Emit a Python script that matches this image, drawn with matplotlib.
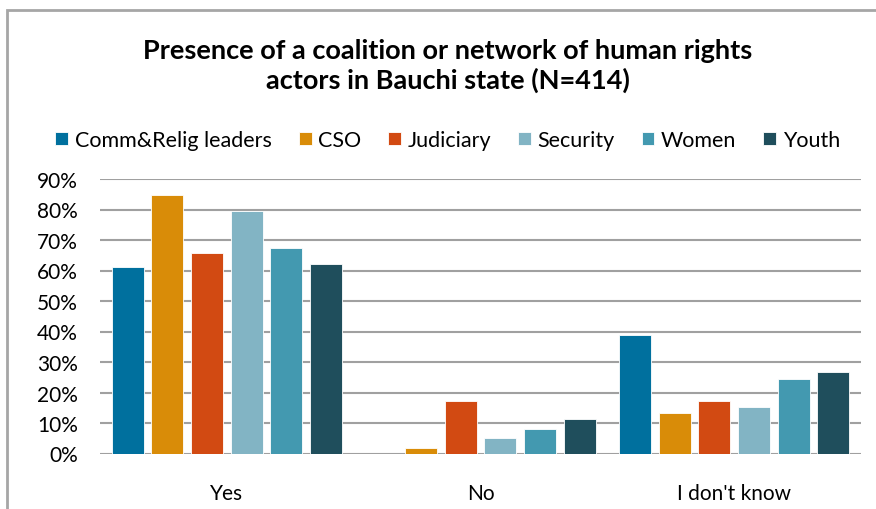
import matplotlib
matplotlib.use('Agg')
import matplotlib.pyplot as plt
import numpy as np
from matplotlib.patches import Rectangle

plt.rcParams['font.family'] = ['Lato', 'DejaVu Sans']

# Data
categories = ['Yes', 'No', "I don't know"]
groups = ['Comm&Relig leaders', 'CSO', 'Judiciary', 'Security', 'Women', 'Youth']
comm_relig = [61.0, 0.0, 38.8]
cso = [84.8, 1.7, 13.4]
judiciary = [65.7, 17.1, 17.1]
security = [79.4, 5.2, 15.3]
women = [67.3, 8.1, 24.4]
youth = [62.1, 11.2, 26.6]
series = [comm_relig, cso, judiciary, security, women, youth]
colors = ['#00709E', '#D98C08', '#D24A12', '#82B4C4', '#4399B0', '#1F4E5C']

fig = plt.figure(figsize=(8.76, 5.10), dpi=100)
fig.patch.set_facecolor('white')

# outer chart frame
fig.patches.append(Rectangle((7 / 876, -0.1), 1.2, 1 - 11 / 510 + 0.1,
                             transform=fig.transFigure, fill=False,
                             edgecolor='#a6a6a6', linewidth=2))

ax = fig.add_axes([100 / 876, 1 - 454.5 / 510, 761 / 876, (454.5 - 180) / 510])

x = np.arange(len(categories))
pitch = 0.1565
width = 0.126
for i, (vals, c, name) in enumerate(zip(series, colors, groups)):
    ax.bar(x + (i - 2.5) * pitch, vals, width, color=c, label=name,
           edgecolor='white', linewidth=0.6, zorder=3)

ax.set_xlim(-0.5, 2.5)
ax.set_ylim(0, 90)
ax.set_yticks(range(0, 91, 10))
ax.set_yticklabels([f'{v}%' for v in range(0, 91, 10)])
ax.set_xticks(x)
ax.set_xticklabels(categories)
ax.grid(axis='y', color='#a0a0a0', linewidth=1.5, zorder=0)
for s in ax.spines.values():
    s.set_visible(False)
ax.tick_params(axis='y', length=0, pad=16, labelsize=15)
ax.tick_params(axis='x', length=0, pad=21, labelsize=15)

fig.text(0.511, 1 - 66 / 510, 'Presence of a coalition or network of human rights\nactors in Bauchi state (N=414)',
         ha='center', va='center', fontsize=19.5, fontweight='bold', linespacing=1.25)

fig.legend(loc='center', bbox_to_anchor=(0.511, 1 - 141 / 510), ncol=6, frameon=False,
           fontsize=15.5, handlelength=0.6, handleheight=0.6, handletextpad=0.3,
           columnspacing=1.25)

fig.savefig('out.png', dpi=100, facecolor='white')
